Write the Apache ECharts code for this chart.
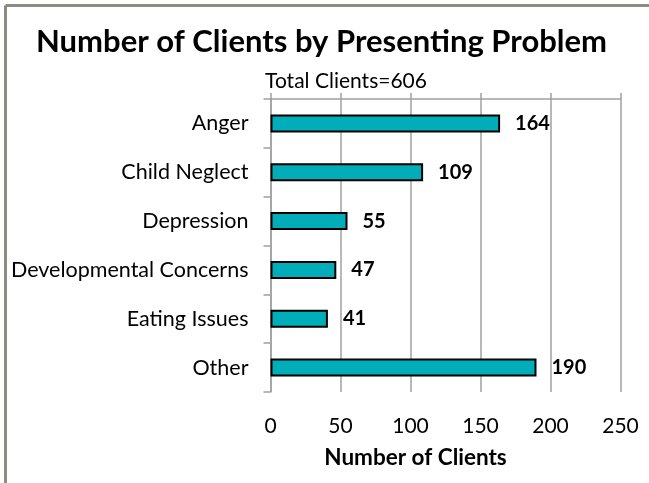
<!DOCTYPE html>
<html>
<head>
<meta charset="utf-8">
<script src="https://cdn.jsdelivr.net/npm/echarts@6/dist/echarts.min.js"></script>
<style>
html,body{margin:0;padding:0;background:#fff;}
#chart{width:649px;height:483px;}
</style>
</head>
<body>
<div id="chart"></div>
<script>
const categories = ["Anger", "Child Neglect", "Depression", "Developmental Concerns", "Eating Issues", "Other"];
const clientCounts = [164, 109, 55, 47, 41, 190];
const xTicks = [0, 50, 100, 150, 200, 250];
const titleText = "Number of Clients by Presenting Problem";
const subtitleText = "Total Clients=606";
const xAxisName = "Number of Clients";

const FONT = "Lato, 'Open Sans', sans-serif";
const chart = echarts.init(document.getElementById('chart'), null, {renderer: 'canvas'});
chart.setOption({
  animation: false,
  backgroundColor: '#ffffff',
  graphic: [
    {type: 'line', shape: {x1: 5.5, y1: 5.5, x2: 649, y2: 5.5}, style: {stroke: '#8c8c80', lineWidth: 3}},
    {type: 'line', shape: {x1: 5.5, y1: 5.5, x2: 5.5, y2: 483}, style: {stroke: '#8c8c80', lineWidth: 3}}
  ],
  title: [
    {text: titleText, left: 31, top: 21, textStyle: {fontFamily: FONT, fontSize: 31, fontWeight: 'bold', color: '#000'}},
    {text: subtitleText, left: 341, top: 66, textAlign: 'center', textStyle: {fontFamily: FONT, fontSize: 21, fontWeight: 'normal', color: '#000'}}
  ],
  grid: {left: 270.5, right: 28.5, top: 99, bottom: 91, containLabel: false},
  xAxis: [
    {
      type: 'value', position: 'top', min: 0, max: 250, interval: 50,
      axisLine: {show: true, lineStyle: {color: '#a0a0a0', width: 1.5}},
      axisTick: {show: true, inside: false, length: 6, lineStyle: {color: '#a0a0a0', width: 1.5}},
      axisLabel: {show: false},
      splitLine: {show: true, lineStyle: {color: '#a0a0a0', width: 1.5}}
    },
    {
      type: 'value', position: 'bottom', min: 0, max: 250, interval: 50,
      axisLine: {show: false}, axisTick: {show: false}, splitLine: {show: false},
      axisLabel: {show: true, margin: 24, fontFamily: FONT, fontSize: 21, color: '#000',
        formatter: v => xTicks.indexOf(v) >= 0 ? String(v) : ''},
      name: xAxisName, nameLocation: 'middle', nameGap: 54,
      nameTextStyle: {fontFamily: FONT, fontSize: 22.5, fontWeight: 'bold', color: '#000', padding: [0, 60, 0, 0]}
    }
  ],
  yAxis: {
    type: 'category', data: categories, inverse: true,
    axisLine: {show: true, lineStyle: {color: '#a0a0a0', width: 1.5}},
    axisTick: {show: true, length: 7, lineStyle: {color: '#a0a0a0', width: 1.5}},
    axisLabel: {margin: 22, fontFamily: FONT, fontSize: 21.5, color: '#000'},
    splitLine: {show: false}
  },
  series: [{
    type: 'bar', xAxisIndex: 0, data: clientCounts, barWidth: 18,
    itemStyle: {color: '#00adb9', borderColor: '#000', borderWidth: 2},
    label: {show: true, position: 'right', distance: 15, fontFamily: FONT, fontSize: 20, fontWeight: 'bold', color: '#000'}
  }]
});
</script>
</body>
</html>
